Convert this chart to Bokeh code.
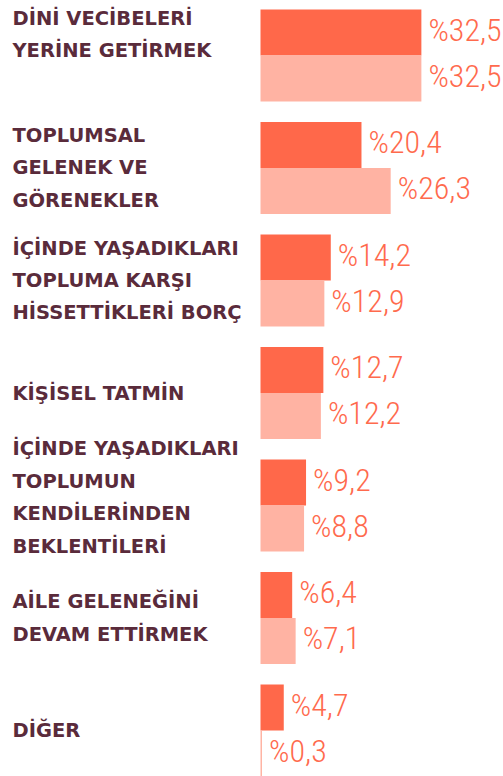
from bokeh.plotting import figure
from bokeh.models import ColumnDataSource, Range1d
from bokeh.core.properties import value
from bokeh.embed import file_html
from bokeh.resources import INLINE

categories = [
    "DİNİ VECİBELERİ\nYERİNE GETİRMEK",
    "TOPLUMSAL\nGELENEK VE\nGÖRENEKLER",
    "İÇİNDE YAŞADIKLARI\nTOPLUMA KARŞI\nHİSSETTİKLERİ BORÇ",
    "KİŞİSEL TATMİN",
    "İÇİNDE YAŞADIKLARI\nTOPLUMUN\nKENDİLERİNDEN\nBEKLENTİLERİ",
    "AİLE GELENEĞİNİ\nDEVAM ETTİRMEK",
    "DİĞER",
]
series_a = [32.5, 20.4, 14.2, 12.7, 9.2, 6.4, 4.7]
series_b = [32.5, 26.3, 12.9, 12.2, 8.8, 7.1, 0.3]

# layout (styles)
W, H = 503, 776
PX_PER_UNIT = 4.95
ZERO_PX = 260
ROW_PX = 112.5
BAR_PX = 46.0
FIRST_CENTER_PX = 55.0
label_shift = [-21, 0, 0, 0, -8, 0, 0]

dark = "#FF684A"
light = "#FFB3A3"
text_col = "#FF6A4D"
label_col = "#5A2B3B"

n = len(categories)
idx = list(range(n))
h = BAR_PX / ROW_PX

def fmt(v):
    return "%" + ("%.1f" % v).replace(".", ",")

src_a = ColumnDataSource(dict(y=[k - h / 2 for k in idx], v=series_a, t=[fmt(v) for v in series_a]))
src_b = ColumnDataSource(dict(y=[k + h / 2 for k in idx], v=series_b, t=[fmt(v) for v in series_b]))

x0 = -ZERO_PX / PX_PER_UNIT
x1 = (W - ZERO_PX) / PX_PER_UNIT
y_top = -FIRST_CENTER_PX / ROW_PX
y_bot = (H - FIRST_CENTER_PX) / ROW_PX

p = figure(width=W, height=H, output_backend="svg", toolbar_location=None,
           x_range=Range1d(x0, x1), y_range=Range1d(y_bot, y_top),
           min_border=0, outline_line_color=None)
p.axis.visible = False
p.grid.visible = False
p.background_fill_color = "white"
p.border_fill_color = "white"

p.hbar(y="y", left=0, right="v", height=h, source=src_a, color=dark, line_color=None)
p.hbar(y="y", left=0, right="v", height=h, source=src_b, color=light, line_color=None)

for src in (src_a, src_b):
    p.text(x="v", y="y", text="t", source=src, x_offset=7, y_offset=-3,
           text_align="left", text_baseline="middle",
           text_font=value("'Roboto Condensed Light', 'Roboto Condensed', sans-serif"),
           text_font_size="32px",
           text_color=text_col)

lab = ColumnDataSource(dict(x=[x0] * n, y=idx, t=categories, dy=label_shift))
p.text(x="x", y="y", text="t", source=lab, x_offset=12, y_offset="dy",
       text_align="left", text_baseline="middle",
       text_font=value("DejaVu Sans"), text_font_style="bold", text_font_size="19.5px",
       text_line_height=1.41, text_color=label_col)

open("out.html", "w").write(file_html(p, INLINE))
